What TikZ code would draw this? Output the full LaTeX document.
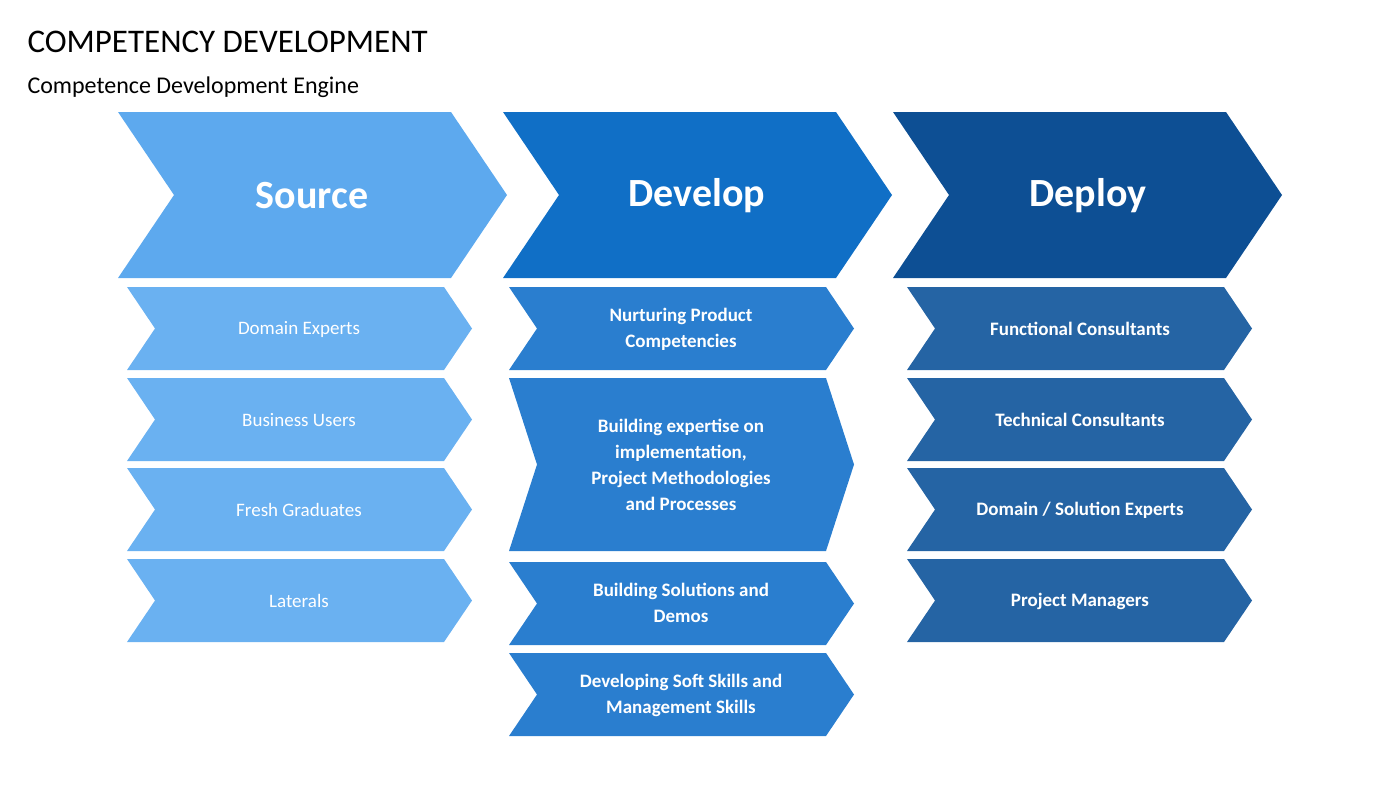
\documentclass[tikz,border=0pt]{standalone}
\usepackage{fontspec}
\setmainfont{Carlito}
\definecolor{csrc}{HTML}{5DA9EE}
\definecolor{cdev}{HTML}{106FC6}
\definecolor{cdep}{HTML}{0D4F94}
\definecolor{ssrc}{HTML}{6AB1F1}
\definecolor{sdev}{HTML}{2A7ECF}
\definecolor{sdep}{HTML}{2564A4}
\newcommand{\chev}[6]{% x1,y1,x2,y2,depth,color
  \fill[#6] (#1,#2) -- (#3-#5,#2) -- (#3,{(#2+#4)/2}) -- (#3-#5,#4) -- (#1,#4) -- (#1+#5,{(#2+#4)/2}) -- cycle;}
\tikzset{big/.style={text=white,font=\fontsize{40}{44}\selectfont\bfseries},
 sm/.style={text=white,font=\fontsize{19}{26}\selectfont,align=center},
 smb/.style={sm,font=\fontsize{19}{26}\selectfont\bfseries}}
\begin{document}
\begin{tikzpicture}[x=1pt,y=-1pt]
\useasboundingbox (0,0) rectangle (1400,788);
\node[anchor=west,font=\fontsize{33}{36}\selectfont] (title) at (24,42) {COMPETENCY DEVELOPMENT};
\node[anchor=west,font=\fontsize{24}{28}\selectfont] (sub) at (24,87) {Competence Development Engine};
\chev{118}{112}{507}{278}{56}{csrc}
\chev{503}{112}{892}{278}{56}{cdev}
\chev{893}{112}{1282}{278}{56}{cdep}
\node[big] (s) at (312,196) {Source};
\node[big] (d) at (697,196) {Develop};
\node[big] (p) at (1088,196) {Deploy};
% column 1
\chev{127}{287}{472}{370}{28}{ssrc}
\chev{127}{378}{472}{461}{28}{ssrc}
\chev{127}{468}{472}{551}{28}{ssrc}
\chev{127}{559}{472}{642}{28}{ssrc}
\node[sm] (s1) at (299,329) {Domain Experts};
\node[sm] (s2) at (299,420) {Business Users};
\node[sm] (s3) at (299,510) {Fresh Graduates};
\node[sm] (s4) at (299,601) {Laterals};
% column 2
\chev{509}{287}{854}{370}{28}{sdev}
\chev{509}{378}{854}{551}{28}{sdev}
\chev{509}{562}{854}{645}{28}{sdev}
\chev{509}{653}{854}{736}{28}{sdev}
\node[smb] (d1) at (681,329) {Nurturing Product\\Competencies};
\node[smb] (d2) at (681,465) {Building expertise on\\implementation,\\Project Methodologies\\and Processes};
\node[smb] (d3) at (681,603) {Building Solutions and\\Demos};
\node[smb] (d4) at (681,695) {Developing Soft Skills and\\Management Skills};
% column 3
\chev{907}{287}{1252}{370}{28}{sdep}
\chev{907}{378}{1252}{461}{28}{sdep}
\chev{907}{468}{1252}{551}{28}{sdep}
\chev{907}{559}{1252}{642}{28}{sdep}
\node[smb] (p1) at (1080,329) {Functional Consultants};
\node[smb] (p2) at (1080,420) {Technical Consultants};
\node[smb] (p3) at (1080,510) {Domain / Solution Experts};
\node[smb] (p4) at (1080,601) {Project Managers};
\end{tikzpicture}
\end{document}
